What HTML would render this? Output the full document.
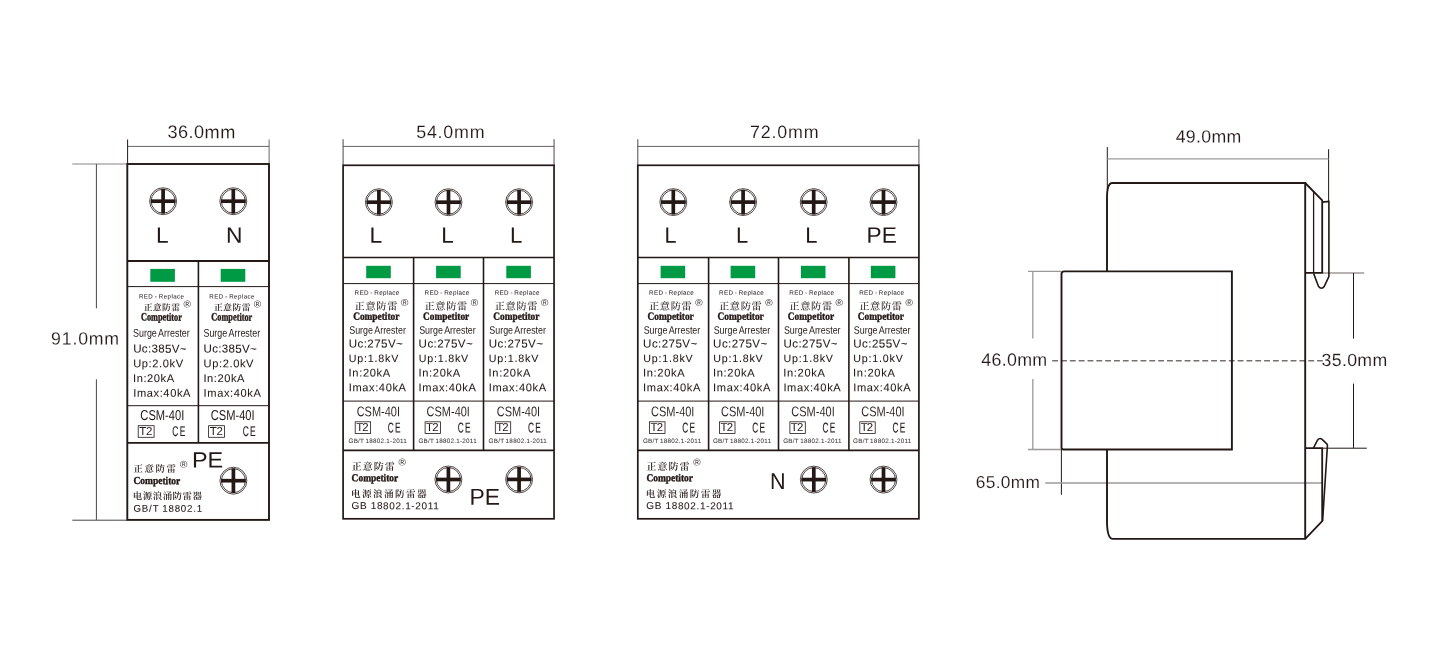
<!DOCTYPE html>
<html lang="zh">
<head>
<meta charset="utf-8">
<title>CSM-40I Surge Arrester Dimensions</title>
<style>
html,body{margin:0;padding:0;background:#fff;}
body{width:1450px;height:660px;overflow:hidden;font-family:"Liberation Sans","Noto Sans CJK SC",sans-serif;}
svg{display:block;will-change:transform;}
text{white-space:pre;}
</style>
</head>
<body>
<svg width="1450" height="660" viewBox="0 0 1450 660">
<rect x="0" y="0" width="1450" height="660" fill="#ffffff"/>
<line x1="127.6" y1="139.5" x2="127.6" y2="164" stroke="#231815" stroke-width="1" />
<line x1="269.1" y1="139.5" x2="269.1" y2="164" stroke="#6b6665" stroke-width="1" />
<line x1="127.3" y1="146.4" x2="269" y2="146.4" stroke="#3e3a39" stroke-width="0.8" />
<text transform="matrix(1 0.0008 0 1 167.46 138.1)" font-family='"Liberation Sans", sans-serif' font-size="18.14" fill="#231815" stroke="#fff" stroke-width="0.12" letter-spacing="0.47">36.0mm</text>
<line x1="72.3" y1="164" x2="127.3" y2="164" stroke="#8a8584" stroke-width="1.2" />
<line x1="72.3" y1="520.2" x2="127.3" y2="520.2" stroke="#4a4543" stroke-width="1" />
<line x1="96.4" y1="164" x2="96.4" y2="308.3" stroke="#4a4543" stroke-width="1" />
<line x1="96.4" y1="379.3" x2="96.4" y2="519.9" stroke="#4a4543" stroke-width="1" />
<text transform="matrix(1 0.0008 0 1 51.09 344.4)" font-family='"Liberation Sans", sans-serif' font-size="17.71" fill="#231815" stroke="#fff" stroke-width="0.12" letter-spacing="0.81">91.0mm</text>
<rect x="127.3" y="164" width="141.7" height="355.9" fill="none" stroke="#231815" stroke-width="1.9" />
<line x1="127.3" y1="261" x2="269" y2="261" stroke="#231815" stroke-width="1.9" />
<line x1="127.3" y1="286.6" x2="269" y2="286.6" stroke="#231815" stroke-width="1" />
<line x1="127.3" y1="405.7" x2="269" y2="405.7" stroke="#231815" stroke-width="1" />
<line x1="127.3" y1="442.9" x2="269" y2="442.9" stroke="#231815" stroke-width="1.9" />
<line x1="198.4" y1="261" x2="198.4" y2="442.9" stroke="#231815" stroke-width="1.6" />
<circle cx="163.1" cy="201.2" r="13.45" fill="none" stroke="#231815" stroke-width="0.8"/>
<circle cx="163.1" cy="201.2" r="11.95" fill="none" stroke="#231815" stroke-width="0.8"/>
<line x1="150.75" y1="201.2" x2="175.45" y2="201.2" stroke="#231815" stroke-width="3.7" />
<line x1="163.1" y1="188.85" x2="163.1" y2="213.55" stroke="#231815" stroke-width="3.7" />
<circle cx="233.3" cy="201.2" r="13.45" fill="none" stroke="#231815" stroke-width="0.8"/>
<circle cx="233.3" cy="201.2" r="11.95" fill="none" stroke="#231815" stroke-width="0.8"/>
<line x1="220.95" y1="201.2" x2="245.65" y2="201.2" stroke="#231815" stroke-width="3.7" />
<line x1="233.3" y1="188.85" x2="233.3" y2="213.55" stroke="#231815" stroke-width="3.7" />
<text transform="matrix(1.0156 0.0008 0 1 155.99 242.7)" font-family='"Liberation Sans", sans-serif' font-size="22.32" fill="#231815">L</text>
<text transform="matrix(1.0219 0.0008 0 1 226.08 242.7)" font-family='"Liberation Sans", sans-serif' font-size="22.32" fill="#231815">N</text>
<rect x="150.3" y="268.9" width="24.6" height="12.9" fill="#009944" />
<text transform="matrix(1 0.0008 0 1 138.91 298.4)" font-family='"Liberation Sans", sans-serif' font-size="6.16" fill="#332e2c" stroke="#332e2c" stroke-width="0.05" word-spacing="-0.6" letter-spacing="0.44">RED - Replace</text>
<text transform="matrix(1 0.0008 0 1 143.64 310.42)" font-family='"Liberation Serif", "Noto Serif CJK SC", serif' font-size="8.76" fill="#231815" font-weight="600" letter-spacing="0.49">正意防雷</text>
<text transform="matrix(0.9861 0.0008 0 1 183.4 307.6)" font-family='"Liberation Sans", sans-serif' font-size="10.14" fill="#231815" stroke="#fff" stroke-width="0.04">®</text>
<text transform="matrix(0.7328 0.0008 0 1 140.97 320.6)" font-family='"Liberation Serif", serif' font-size="11.3" fill="#231815" font-weight="700" stroke="#231815" stroke-width="0.4">Competitor</text>
<text transform="matrix(0.7914 0.0008 0 1 133.04 336.8)" font-family='"Liberation Sans", sans-serif' font-size="11.27" fill="#231815" word-spacing="-0.9">Surge Arrester</text>
<text transform="matrix(1 0.0008 0 1 133.19 352.6)" font-family='"Liberation Sans", sans-serif' font-size="11.57" fill="#231815" stroke="#231815" stroke-width="0.06" letter-spacing="0.3">Uc:385V~</text>
<text transform="matrix(1 0.0008 0 1 133.22 367.2)" font-family='"Liberation Sans", sans-serif' font-size="11.1" fill="#231815" stroke="#231815" stroke-width="0.06" letter-spacing="0.6">Up:2.0kV</text>
<text transform="matrix(1 0.0008 0 1 133 382)" font-family='"Liberation Sans", sans-serif' font-size="11.1" fill="#231815" stroke="#231815" stroke-width="0.06" letter-spacing="0.57">In:20kA</text>
<text transform="matrix(1 0.0008 0 1 133.2 396.8)" font-family='"Liberation Sans", sans-serif' font-size="11.1" fill="#231815" stroke="#231815" stroke-width="0.06" letter-spacing="0.61">Imax:40kA</text>
<text transform="matrix(0.7752 0.0008 0 1 140.34 419.9)" font-family='"Liberation Sans", sans-serif' font-size="14.37" fill="#231815">CSM-40I</text>
<rect x="138.2" y="425.7" width="15.9" height="11.6" fill="none" stroke="#231815" stroke-width="0.8" />
<text transform="matrix(1 0.0008 0 1 139.37 434.9)" font-family='"Liberation Sans", sans-serif' font-size="11.57" fill="#231815" letter-spacing="-0.34">T2</text>
<text transform="matrix(0.6020 0.0008 0 1 172.28 436)" font-family='"Liberation Sans", sans-serif' font-size="14" fill="#231815" stroke="#231815" stroke-width="0.12" letter-spacing="2.2">CE</text>
<rect x="220.7" y="268.9" width="24.6" height="12.9" fill="#009944" />
<text transform="matrix(1 0.0008 0 1 209.31 298.4)" font-family='"Liberation Sans", sans-serif' font-size="6.16" fill="#332e2c" stroke="#332e2c" stroke-width="0.05" word-spacing="-0.6" letter-spacing="0.44">RED - Replace</text>
<text transform="matrix(1 0.0008 0 1 214.04 310.42)" font-family='"Liberation Serif", "Noto Serif CJK SC", serif' font-size="8.76" fill="#231815" font-weight="600" letter-spacing="0.49">正意防雷</text>
<text transform="matrix(0.9861 0.0008 0 1 253.8 307.6)" font-family='"Liberation Sans", sans-serif' font-size="10.14" fill="#231815" stroke="#fff" stroke-width="0.04">®</text>
<text transform="matrix(0.7328 0.0008 0 1 211.37 320.6)" font-family='"Liberation Serif", serif' font-size="11.3" fill="#231815" font-weight="700" stroke="#231815" stroke-width="0.4">Competitor</text>
<text transform="matrix(0.7914 0.0008 0 1 203.44 336.8)" font-family='"Liberation Sans", sans-serif' font-size="11.27" fill="#231815" word-spacing="-0.9">Surge Arrester</text>
<text transform="matrix(1 0.0008 0 1 203.59 352.6)" font-family='"Liberation Sans", sans-serif' font-size="11.57" fill="#231815" stroke="#231815" stroke-width="0.06" letter-spacing="0.3">Uc:385V~</text>
<text transform="matrix(1 0.0008 0 1 203.62 367.2)" font-family='"Liberation Sans", sans-serif' font-size="11.1" fill="#231815" stroke="#231815" stroke-width="0.06" letter-spacing="0.6">Up:2.0kV</text>
<text transform="matrix(1 0.0008 0 1 203.4 382)" font-family='"Liberation Sans", sans-serif' font-size="11.1" fill="#231815" stroke="#231815" stroke-width="0.06" letter-spacing="0.57">In:20kA</text>
<text transform="matrix(1 0.0008 0 1 203.6 396.8)" font-family='"Liberation Sans", sans-serif' font-size="11.1" fill="#231815" stroke="#231815" stroke-width="0.06" letter-spacing="0.61">Imax:40kA</text>
<text transform="matrix(0.7752 0.0008 0 1 210.74 419.9)" font-family='"Liberation Sans", sans-serif' font-size="14.37" fill="#231815">CSM-40I</text>
<rect x="208.6" y="425.7" width="15.9" height="11.6" fill="none" stroke="#231815" stroke-width="0.8" />
<text transform="matrix(1 0.0008 0 1 209.77 434.9)" font-family='"Liberation Sans", sans-serif' font-size="11.57" fill="#231815" letter-spacing="-0.34">T2</text>
<text transform="matrix(0.6020 0.0008 0 1 242.68 436)" font-family='"Liberation Sans", sans-serif' font-size="14" fill="#231815" stroke="#231815" stroke-width="0.12" letter-spacing="2.2">CE</text>
<text transform="matrix(1 0.0008 0 1 133.62 471.95)" font-family='"Liberation Serif", "Noto Serif CJK SC", serif' font-size="9.48" fill="#231815" font-weight="600" letter-spacing="1.51">正意防雷</text>
<text transform="matrix(0.9861 0.0008 0 1 180.1 467.7)" font-family='"Liberation Sans", sans-serif' font-size="10.14" fill="#231815" stroke="#fff" stroke-width="0.04">®</text>
<text transform="matrix(0.8830 0.0008 0 1 133.52 484.1)" font-family='"Liberation Serif", serif' font-size="10.72" fill="#231815" font-weight="700" stroke="#231815" stroke-width="0.4">Competitor</text>
<text transform="matrix(1 0.0008 0 1 132.86 499.25)" font-family='"Liberation Serif", "Noto Serif CJK SC", serif' font-size="9.48" fill="#231815" font-weight="600" letter-spacing="0.46">电源浪涌防雷器</text>
<text transform="matrix(1 0.0008 0 1 133.41 511.8)" font-family='"Liberation Sans", sans-serif' font-size="9.73" fill="#231815" stroke="#231815" stroke-width="0.08" word-spacing="-0.6" letter-spacing="0.83">GB/T 18802.1</text>
<text transform="matrix(1.0561 0.0008 0 1 191.93 467.4)" font-family='"Liberation Sans", sans-serif' font-size="22.17" fill="#231815">PE</text>
<circle cx="233.4" cy="480.7" r="13.45" fill="none" stroke="#231815" stroke-width="0.8"/>
<circle cx="233.4" cy="480.7" r="11.95" fill="none" stroke="#231815" stroke-width="0.8"/>
<line x1="221.05" y1="480.7" x2="245.75" y2="480.7" stroke="#231815" stroke-width="3.7" />
<line x1="233.4" y1="468.35" x2="233.4" y2="493.05" stroke="#231815" stroke-width="3.7" />
<line x1="343.1" y1="139.2" x2="343.1" y2="165.3" stroke="#231815" stroke-width="0.8" />
<line x1="554.05" y1="139.2" x2="554.05" y2="165.3" stroke="#231815" stroke-width="0.8" />
<line x1="343.1" y1="146.4" x2="554.05" y2="146.4" stroke="#3e3a39" stroke-width="0.8" />
<text transform="matrix(1 0.0008 0 1 416.19 137.9)" font-family='"Liberation Sans", sans-serif' font-size="17.86" fill="#231815" stroke="#fff" stroke-width="0.12" letter-spacing="0.77">54.0mm</text>
<rect x="343.1" y="165.3" width="210.95" height="353.5" fill="none" stroke="#231815" stroke-width="1.7" />
<line x1="343.1" y1="257.5" x2="554.05" y2="257.5" stroke="#231815" stroke-width="1.7" />
<line x1="343.1" y1="283.6" x2="554.05" y2="283.6" stroke="#231815" stroke-width="1" />
<line x1="343.1" y1="401.1" x2="554.05" y2="401.1" stroke="#231815" stroke-width="1" />
<line x1="343.1" y1="450.4" x2="554.05" y2="450.4" stroke="#231815" stroke-width="1.7" />
<line x1="413.6" y1="257.5" x2="413.6" y2="450.4" stroke="#231815" stroke-width="1.6" />
<line x1="483.5" y1="257.5" x2="483.5" y2="450.4" stroke="#231815" stroke-width="1.6" />
<circle cx="378.9" cy="202.2" r="13.45" fill="none" stroke="#231815" stroke-width="0.8"/>
<circle cx="378.9" cy="202.2" r="11.95" fill="none" stroke="#231815" stroke-width="0.8"/>
<line x1="366.55" y1="202.2" x2="391.25" y2="202.2" stroke="#231815" stroke-width="3.7" />
<line x1="378.9" y1="189.85" x2="378.9" y2="214.55" stroke="#231815" stroke-width="3.7" />
<text transform="matrix(1.0255 0.0008 0 1 369.47 242.8)" font-family='"Liberation Sans", sans-serif' font-size="22.32" fill="#231815">L</text>
<circle cx="448.5" cy="202.2" r="13.45" fill="none" stroke="#231815" stroke-width="0.8"/>
<circle cx="448.5" cy="202.2" r="11.95" fill="none" stroke="#231815" stroke-width="0.8"/>
<line x1="436.15" y1="202.2" x2="460.85" y2="202.2" stroke="#231815" stroke-width="3.7" />
<line x1="448.5" y1="189.85" x2="448.5" y2="214.55" stroke="#231815" stroke-width="3.7" />
<text transform="matrix(1.0056 0.0008 0 1 441.2 242.8)" font-family='"Liberation Sans", sans-serif' font-size="22.32" fill="#231815">L</text>
<circle cx="519.1" cy="202.2" r="13.45" fill="none" stroke="#231815" stroke-width="0.8"/>
<circle cx="519.1" cy="202.2" r="11.95" fill="none" stroke="#231815" stroke-width="0.8"/>
<line x1="506.75" y1="202.2" x2="531.45" y2="202.2" stroke="#231815" stroke-width="3.7" />
<line x1="519.1" y1="189.85" x2="519.1" y2="214.55" stroke="#231815" stroke-width="3.7" />
<text transform="matrix(0.9957 0.0008 0 1 510.12 242.8)" font-family='"Liberation Sans", sans-serif' font-size="22.32" fill="#231815">L</text>
<rect x="366.2" y="265.8" width="24.6" height="12.4" fill="#009944" />
<text transform="matrix(1 0.0008 0 1 354.6 294.8)" font-family='"Liberation Sans", sans-serif' font-size="6.3" fill="#332e2c" stroke="#332e2c" stroke-width="0.05" word-spacing="-0.6" letter-spacing="0.33">RED - Replace</text>
<text transform="matrix(1 0.0008 0 1 354.59 309.78)" font-family='"Liberation Serif", "Noto Serif CJK SC", serif' font-size="10.21" fill="#231815" font-weight="500" letter-spacing="0.66">正意防雷</text>
<text transform="matrix(0.9861 0.0008 0 1 400.9 306.1)" font-family='"Liberation Sans", sans-serif' font-size="10.14" fill="#231815" stroke="#fff" stroke-width="0.04">®</text>
<text transform="matrix(0.8618 0.0008 0 1 353.13 319.7)" font-family='"Liberation Serif", serif' font-size="10.87" fill="#231815" font-weight="700" stroke="#231815" stroke-width="0.4">Competitor</text>
<text transform="matrix(0.8200 0.0008 0 1 349.24 333.8)" font-family='"Liberation Sans", sans-serif' font-size="10.85" fill="#231815" word-spacing="-0.8">Surge Arrester</text>
<text transform="matrix(1 0.0008 0 1 348.69 347.5)" font-family='"Liberation Sans", sans-serif' font-size="11.57" fill="#231815" stroke="#231815" stroke-width="0.06" letter-spacing="0.44">Uc:275V~</text>
<text transform="matrix(1 0.0008 0 1 348.75 361.9)" font-family='"Liberation Sans", sans-serif' font-size="10.68" fill="#231815" stroke="#231815" stroke-width="0.06" letter-spacing="0.8">Up:1.8kV</text>
<text transform="matrix(1 0.0008 0 1 348.5 376.6)" font-family='"Liberation Sans", sans-serif' font-size="11.1" fill="#231815" stroke="#231815" stroke-width="0.06" letter-spacing="0.69">In:20kA</text>
<text transform="matrix(1 0.0008 0 1 348.7 391.2)" font-family='"Liberation Sans", sans-serif' font-size="11.1" fill="#231815" stroke="#231815" stroke-width="0.06" letter-spacing="0.61">Imax:40kA</text>
<text transform="matrix(0.7892 0.0008 0 1 356.65 416.2)" font-family='"Liberation Sans", sans-serif' font-size="13.94" fill="#231815" stroke="#fff" stroke-width="0.06">CSM-40I</text>
<rect x="355.2" y="421.8" width="15.4" height="11.6" fill="none" stroke="#231815" stroke-width="0.8" />
<text transform="matrix(1 0.0008 0 1 356.17 430.9)" font-family='"Liberation Sans", sans-serif' font-size="11.43" fill="#231815" letter-spacing="-0.88">T2</text>
<text transform="matrix(0.5817 0.0008 0 1 387.78 432.4)" font-family='"Liberation Sans", sans-serif' font-size="14.29" fill="#231815" stroke="#231815" stroke-width="0.12" letter-spacing="2.2">CE</text>
<text transform="matrix(1 0.0008 0 1 348.48 443)" font-family='"Liberation Sans", sans-serif' font-size="6.3" fill="#3e3a38" stroke="#3e3a38" stroke-width="0.05" word-spacing="-0.6" letter-spacing="0.26">GB/T 18802.1-2011</text>
<rect x="436.1" y="265.8" width="24.6" height="12.4" fill="#009944" />
<text transform="matrix(1 0.0008 0 1 424.5 294.8)" font-family='"Liberation Sans", sans-serif' font-size="6.3" fill="#332e2c" stroke="#332e2c" stroke-width="0.05" word-spacing="-0.6" letter-spacing="0.33">RED - Replace</text>
<text transform="matrix(1 0.0008 0 1 424.49 309.78)" font-family='"Liberation Serif", "Noto Serif CJK SC", serif' font-size="10.21" fill="#231815" font-weight="500" letter-spacing="0.66">正意防雷</text>
<text transform="matrix(0.9861 0.0008 0 1 470.8 306.1)" font-family='"Liberation Sans", sans-serif' font-size="10.14" fill="#231815" stroke="#fff" stroke-width="0.04">®</text>
<text transform="matrix(0.8618 0.0008 0 1 423.03 319.7)" font-family='"Liberation Serif", serif' font-size="10.87" fill="#231815" font-weight="700" stroke="#231815" stroke-width="0.4">Competitor</text>
<text transform="matrix(0.8200 0.0008 0 1 419.14 333.8)" font-family='"Liberation Sans", sans-serif' font-size="10.85" fill="#231815" word-spacing="-0.8">Surge Arrester</text>
<text transform="matrix(1 0.0008 0 1 418.59 347.5)" font-family='"Liberation Sans", sans-serif' font-size="11.57" fill="#231815" stroke="#231815" stroke-width="0.06" letter-spacing="0.44">Uc:275V~</text>
<text transform="matrix(1 0.0008 0 1 418.65 361.9)" font-family='"Liberation Sans", sans-serif' font-size="10.68" fill="#231815" stroke="#231815" stroke-width="0.06" letter-spacing="0.8">Up:1.8kV</text>
<text transform="matrix(1 0.0008 0 1 418.4 376.6)" font-family='"Liberation Sans", sans-serif' font-size="11.1" fill="#231815" stroke="#231815" stroke-width="0.06" letter-spacing="0.69">In:20kA</text>
<text transform="matrix(1 0.0008 0 1 418.6 391.2)" font-family='"Liberation Sans", sans-serif' font-size="11.1" fill="#231815" stroke="#231815" stroke-width="0.06" letter-spacing="0.61">Imax:40kA</text>
<text transform="matrix(0.7892 0.0008 0 1 426.55 416.2)" font-family='"Liberation Sans", sans-serif' font-size="13.94" fill="#231815" stroke="#fff" stroke-width="0.06">CSM-40I</text>
<rect x="425.1" y="421.8" width="15.4" height="11.6" fill="none" stroke="#231815" stroke-width="0.8" />
<text transform="matrix(1 0.0008 0 1 426.07 430.9)" font-family='"Liberation Sans", sans-serif' font-size="11.43" fill="#231815" letter-spacing="-0.88">T2</text>
<text transform="matrix(0.5817 0.0008 0 1 457.68 432.4)" font-family='"Liberation Sans", sans-serif' font-size="14.29" fill="#231815" stroke="#231815" stroke-width="0.12" letter-spacing="2.2">CE</text>
<text transform="matrix(1 0.0008 0 1 418.38 443)" font-family='"Liberation Sans", sans-serif' font-size="6.3" fill="#3e3a38" stroke="#3e3a38" stroke-width="0.05" word-spacing="-0.6" letter-spacing="0.26">GB/T 18802.1-2011</text>
<rect x="506.3" y="265.8" width="24.6" height="12.4" fill="#009944" />
<text transform="matrix(1 0.0008 0 1 494.7 294.8)" font-family='"Liberation Sans", sans-serif' font-size="6.3" fill="#332e2c" stroke="#332e2c" stroke-width="0.05" word-spacing="-0.6" letter-spacing="0.33">RED - Replace</text>
<text transform="matrix(1 0.0008 0 1 494.69 309.78)" font-family='"Liberation Serif", "Noto Serif CJK SC", serif' font-size="10.21" fill="#231815" font-weight="500" letter-spacing="0.66">正意防雷</text>
<text transform="matrix(0.9861 0.0008 0 1 541 306.1)" font-family='"Liberation Sans", sans-serif' font-size="10.14" fill="#231815" stroke="#fff" stroke-width="0.04">®</text>
<text transform="matrix(0.8618 0.0008 0 1 493.23 319.7)" font-family='"Liberation Serif", serif' font-size="10.87" fill="#231815" font-weight="700" stroke="#231815" stroke-width="0.4">Competitor</text>
<text transform="matrix(0.8200 0.0008 0 1 489.34 333.8)" font-family='"Liberation Sans", sans-serif' font-size="10.85" fill="#231815" word-spacing="-0.8">Surge Arrester</text>
<text transform="matrix(1 0.0008 0 1 488.79 347.5)" font-family='"Liberation Sans", sans-serif' font-size="11.57" fill="#231815" stroke="#231815" stroke-width="0.06" letter-spacing="0.44">Uc:275V~</text>
<text transform="matrix(1 0.0008 0 1 488.85 361.9)" font-family='"Liberation Sans", sans-serif' font-size="10.68" fill="#231815" stroke="#231815" stroke-width="0.06" letter-spacing="0.8">Up:1.8kV</text>
<text transform="matrix(1 0.0008 0 1 488.6 376.6)" font-family='"Liberation Sans", sans-serif' font-size="11.1" fill="#231815" stroke="#231815" stroke-width="0.06" letter-spacing="0.69">In:20kA</text>
<text transform="matrix(1 0.0008 0 1 488.8 391.2)" font-family='"Liberation Sans", sans-serif' font-size="11.1" fill="#231815" stroke="#231815" stroke-width="0.06" letter-spacing="0.61">Imax:40kA</text>
<text transform="matrix(0.7892 0.0008 0 1 496.75 416.2)" font-family='"Liberation Sans", sans-serif' font-size="13.94" fill="#231815" stroke="#fff" stroke-width="0.06">CSM-40I</text>
<rect x="495.3" y="421.8" width="15.4" height="11.6" fill="none" stroke="#231815" stroke-width="0.8" />
<text transform="matrix(1 0.0008 0 1 496.27 430.9)" font-family='"Liberation Sans", sans-serif' font-size="11.43" fill="#231815" letter-spacing="-0.88">T2</text>
<text transform="matrix(0.5817 0.0008 0 1 527.88 432.4)" font-family='"Liberation Sans", sans-serif' font-size="14.29" fill="#231815" stroke="#231815" stroke-width="0.12" letter-spacing="2.2">CE</text>
<text transform="matrix(1 0.0008 0 1 488.58 443)" font-family='"Liberation Sans", sans-serif' font-size="6.3" fill="#3e3a38" stroke="#3e3a38" stroke-width="0.05" word-spacing="-0.6" letter-spacing="0.26">GB/T 18802.1-2011</text>
<text transform="matrix(1 0.0008 0 1 351.7 469.9)" font-family='"Liberation Serif", "Noto Serif CJK SC", serif' font-size="10" fill="#231815" font-weight="600" letter-spacing="1">正意防雷</text>
<text transform="matrix(0.9861 0.0008 0 1 398.4 465.4)" font-family='"Liberation Sans", sans-serif' font-size="10.14" fill="#231815" stroke="#fff" stroke-width="0.04">®</text>
<text transform="matrix(0.8913 0.0008 0 1 351.62 481.2)" font-family='"Liberation Serif", serif' font-size="10.58" fill="#231815" font-weight="700" stroke="#231815" stroke-width="0.4">Competitor</text>
<text transform="matrix(1 0.0008 0 1 350.95 497.14)" font-family='"Liberation Serif", "Noto Serif CJK SC", serif' font-size="9.58" fill="#231815" font-weight="600" letter-spacing="1.41">电源浪涌防雷器</text>
<text transform="matrix(1 0.0008 0 1 351.5 509.1)" font-family='"Liberation Sans", sans-serif' font-size="10" fill="#231815" stroke="#231815" stroke-width="0.08" letter-spacing="0.65">GB 18802.1-2011</text>
<circle cx="448.4" cy="479.5" r="13.45" fill="none" stroke="#231815" stroke-width="0.8"/>
<circle cx="448.4" cy="479.5" r="11.95" fill="none" stroke="#231815" stroke-width="0.8"/>
<line x1="436.05" y1="479.5" x2="460.75" y2="479.5" stroke="#231815" stroke-width="3.7" />
<line x1="448.4" y1="467.15" x2="448.4" y2="491.85" stroke="#231815" stroke-width="3.7" />
<circle cx="519.1" cy="479.4" r="13.45" fill="none" stroke="#231815" stroke-width="0.8"/>
<circle cx="519.1" cy="479.4" r="11.95" fill="none" stroke="#231815" stroke-width="0.8"/>
<line x1="506.75" y1="479.4" x2="531.45" y2="479.4" stroke="#231815" stroke-width="3.7" />
<line x1="519.1" y1="467.05" x2="519.1" y2="491.75" stroke="#231815" stroke-width="3.7" />
<text transform="matrix(0.9949 0.0008 0 1 469.57 504.8)" font-family='"Liberation Sans", sans-serif' font-size="23.04" fill="#231815">PE</text>
<line x1="637.8" y1="139.2" x2="637.8" y2="165.3" stroke="#231815" stroke-width="0.8" />
<line x1="918.9" y1="139.2" x2="918.9" y2="165.3" stroke="#231815" stroke-width="0.8" />
<line x1="637.8" y1="146.4" x2="918.9" y2="146.4" stroke="#3e3a39" stroke-width="0.8" />
<text transform="matrix(1 0.0008 0 1 750.01 137.9)" font-family='"Liberation Sans", sans-serif' font-size="17.86" fill="#231815" stroke="#fff" stroke-width="0.12" letter-spacing="0.8">72.0mm</text>
<rect x="637.8" y="165.3" width="281.1" height="353.5" fill="none" stroke="#231815" stroke-width="1.7" />
<line x1="637.8" y1="257.5" x2="918.9" y2="257.5" stroke="#231815" stroke-width="1.7" />
<line x1="637.8" y1="283.6" x2="918.9" y2="283.6" stroke="#231815" stroke-width="1" />
<line x1="637.8" y1="401.1" x2="918.9" y2="401.1" stroke="#231815" stroke-width="1" />
<line x1="637.8" y1="450.4" x2="918.9" y2="450.4" stroke="#231815" stroke-width="1.7" />
<line x1="708.6" y1="257.5" x2="708.6" y2="450.4" stroke="#231815" stroke-width="1.6" />
<line x1="778.5" y1="257.5" x2="778.5" y2="450.4" stroke="#231815" stroke-width="1.6" />
<line x1="848.9" y1="257.5" x2="848.9" y2="450.4" stroke="#231815" stroke-width="1.6" />
<circle cx="673.3" cy="202.1" r="13.45" fill="none" stroke="#231815" stroke-width="0.8"/>
<circle cx="673.3" cy="202.1" r="11.95" fill="none" stroke="#231815" stroke-width="0.8"/>
<line x1="660.95" y1="202.1" x2="685.65" y2="202.1" stroke="#231815" stroke-width="3.7" />
<line x1="673.3" y1="189.75" x2="673.3" y2="214.45" stroke="#231815" stroke-width="3.7" />
<text transform="matrix(0.9658 0.0008 0 1 664.58 242.8)" font-family='"Liberation Sans", sans-serif' font-size="22.32" fill="#231815">L</text>
<circle cx="743.1" cy="202.1" r="13.45" fill="none" stroke="#231815" stroke-width="0.8"/>
<circle cx="743.1" cy="202.1" r="11.95" fill="none" stroke="#231815" stroke-width="0.8"/>
<line x1="730.75" y1="202.1" x2="755.45" y2="202.1" stroke="#231815" stroke-width="3.7" />
<line x1="743.1" y1="189.75" x2="743.1" y2="214.45" stroke="#231815" stroke-width="3.7" />
<text transform="matrix(0.9857 0.0008 0 1 736.04 242.8)" font-family='"Liberation Sans", sans-serif' font-size="22.32" fill="#231815">L</text>
<circle cx="813.7" cy="202.1" r="13.45" fill="none" stroke="#231815" stroke-width="0.8"/>
<circle cx="813.7" cy="202.1" r="11.95" fill="none" stroke="#231815" stroke-width="0.8"/>
<line x1="801.35" y1="202.1" x2="826.05" y2="202.1" stroke="#231815" stroke-width="3.7" />
<line x1="813.7" y1="189.75" x2="813.7" y2="214.45" stroke="#231815" stroke-width="3.7" />
<text transform="matrix(0.9857 0.0008 0 1 805.14 242.8)" font-family='"Liberation Sans", sans-serif' font-size="22.32" fill="#231815">L</text>
<circle cx="883.5" cy="202.1" r="13.45" fill="none" stroke="#231815" stroke-width="0.8"/>
<circle cx="883.5" cy="202.1" r="11.95" fill="none" stroke="#231815" stroke-width="0.8"/>
<line x1="871.15" y1="202.1" x2="895.85" y2="202.1" stroke="#231815" stroke-width="3.7" />
<line x1="883.5" y1="189.75" x2="883.5" y2="214.45" stroke="#231815" stroke-width="3.7" />
<text transform="matrix(1.0161 0.0008 0 1 866.59 242.8)" font-family='"Liberation Sans", sans-serif' font-size="22.32" fill="#231815">PE</text>
<rect x="660.6" y="265.8" width="24.6" height="12.4" fill="#009944" />
<text transform="matrix(1 0.0008 0 1 649 294.8)" font-family='"Liberation Sans", sans-serif' font-size="6.3" fill="#332e2c" stroke="#332e2c" stroke-width="0.05" word-spacing="-0.6" letter-spacing="0.33">RED - Replace</text>
<text transform="matrix(1 0.0008 0 1 648.99 309.78)" font-family='"Liberation Serif", "Noto Serif CJK SC", serif' font-size="10.21" fill="#231815" font-weight="500" letter-spacing="0.66">正意防雷</text>
<text transform="matrix(0.9861 0.0008 0 1 695.3 306.1)" font-family='"Liberation Sans", sans-serif' font-size="10.14" fill="#231815" stroke="#fff" stroke-width="0.04">®</text>
<text transform="matrix(0.8618 0.0008 0 1 647.53 319.7)" font-family='"Liberation Serif", serif' font-size="10.87" fill="#231815" font-weight="700" stroke="#231815" stroke-width="0.4">Competitor</text>
<text transform="matrix(0.8200 0.0008 0 1 643.64 333.8)" font-family='"Liberation Sans", sans-serif' font-size="10.85" fill="#231815" word-spacing="-0.8">Surge Arrester</text>
<text transform="matrix(1 0.0008 0 1 643.09 347.5)" font-family='"Liberation Sans", sans-serif' font-size="11.57" fill="#231815" stroke="#231815" stroke-width="0.06" letter-spacing="0.44">Uc:275V~</text>
<text transform="matrix(1 0.0008 0 1 643.15 361.9)" font-family='"Liberation Sans", sans-serif' font-size="10.68" fill="#231815" stroke="#231815" stroke-width="0.06" letter-spacing="0.8">Up:1.8kV</text>
<text transform="matrix(1 0.0008 0 1 642.9 376.6)" font-family='"Liberation Sans", sans-serif' font-size="11.1" fill="#231815" stroke="#231815" stroke-width="0.06" letter-spacing="0.69">In:20kA</text>
<text transform="matrix(1 0.0008 0 1 643.1 391.2)" font-family='"Liberation Sans", sans-serif' font-size="11.1" fill="#231815" stroke="#231815" stroke-width="0.06" letter-spacing="0.61">Imax:40kA</text>
<text transform="matrix(0.7892 0.0008 0 1 651.05 416.2)" font-family='"Liberation Sans", sans-serif' font-size="13.94" fill="#231815" stroke="#fff" stroke-width="0.06">CSM-40I</text>
<rect x="649.6" y="421.8" width="15.4" height="11.6" fill="none" stroke="#231815" stroke-width="0.8" />
<text transform="matrix(1 0.0008 0 1 650.57 430.9)" font-family='"Liberation Sans", sans-serif' font-size="11.43" fill="#231815" letter-spacing="-0.88">T2</text>
<text transform="matrix(0.5817 0.0008 0 1 682.18 432.4)" font-family='"Liberation Sans", sans-serif' font-size="14.29" fill="#231815" stroke="#231815" stroke-width="0.12" letter-spacing="2.2">CE</text>
<text transform="matrix(1 0.0008 0 1 642.88 443)" font-family='"Liberation Sans", sans-serif' font-size="6.3" fill="#3e3a38" stroke="#3e3a38" stroke-width="0.05" word-spacing="-0.6" letter-spacing="0.26">GB/T 18802.1-2011</text>
<rect x="730.6" y="265.8" width="24.6" height="12.4" fill="#009944" />
<text transform="matrix(1 0.0008 0 1 719 294.8)" font-family='"Liberation Sans", sans-serif' font-size="6.3" fill="#332e2c" stroke="#332e2c" stroke-width="0.05" word-spacing="-0.6" letter-spacing="0.33">RED - Replace</text>
<text transform="matrix(1 0.0008 0 1 718.99 309.78)" font-family='"Liberation Serif", "Noto Serif CJK SC", serif' font-size="10.21" fill="#231815" font-weight="500" letter-spacing="0.66">正意防雷</text>
<text transform="matrix(0.9861 0.0008 0 1 765.3 306.1)" font-family='"Liberation Sans", sans-serif' font-size="10.14" fill="#231815" stroke="#fff" stroke-width="0.04">®</text>
<text transform="matrix(0.8618 0.0008 0 1 717.53 319.7)" font-family='"Liberation Serif", serif' font-size="10.87" fill="#231815" font-weight="700" stroke="#231815" stroke-width="0.4">Competitor</text>
<text transform="matrix(0.8200 0.0008 0 1 713.64 333.8)" font-family='"Liberation Sans", sans-serif' font-size="10.85" fill="#231815" word-spacing="-0.8">Surge Arrester</text>
<text transform="matrix(1 0.0008 0 1 713.09 347.5)" font-family='"Liberation Sans", sans-serif' font-size="11.57" fill="#231815" stroke="#231815" stroke-width="0.06" letter-spacing="0.44">Uc:275V~</text>
<text transform="matrix(1 0.0008 0 1 713.15 361.9)" font-family='"Liberation Sans", sans-serif' font-size="10.68" fill="#231815" stroke="#231815" stroke-width="0.06" letter-spacing="0.8">Up:1.8kV</text>
<text transform="matrix(1 0.0008 0 1 712.9 376.6)" font-family='"Liberation Sans", sans-serif' font-size="11.1" fill="#231815" stroke="#231815" stroke-width="0.06" letter-spacing="0.69">In:20kA</text>
<text transform="matrix(1 0.0008 0 1 713.1 391.2)" font-family='"Liberation Sans", sans-serif' font-size="11.1" fill="#231815" stroke="#231815" stroke-width="0.06" letter-spacing="0.61">Imax:40kA</text>
<text transform="matrix(0.7892 0.0008 0 1 721.05 416.2)" font-family='"Liberation Sans", sans-serif' font-size="13.94" fill="#231815" stroke="#fff" stroke-width="0.06">CSM-40I</text>
<rect x="719.6" y="421.8" width="15.4" height="11.6" fill="none" stroke="#231815" stroke-width="0.8" />
<text transform="matrix(1 0.0008 0 1 720.57 430.9)" font-family='"Liberation Sans", sans-serif' font-size="11.43" fill="#231815" letter-spacing="-0.88">T2</text>
<text transform="matrix(0.5817 0.0008 0 1 752.18 432.4)" font-family='"Liberation Sans", sans-serif' font-size="14.29" fill="#231815" stroke="#231815" stroke-width="0.12" letter-spacing="2.2">CE</text>
<text transform="matrix(1 0.0008 0 1 712.88 443)" font-family='"Liberation Sans", sans-serif' font-size="6.3" fill="#3e3a38" stroke="#3e3a38" stroke-width="0.05" word-spacing="-0.6" letter-spacing="0.26">GB/T 18802.1-2011</text>
<rect x="800.9" y="265.8" width="24.6" height="12.4" fill="#009944" />
<text transform="matrix(1 0.0008 0 1 789.3 294.8)" font-family='"Liberation Sans", sans-serif' font-size="6.3" fill="#332e2c" stroke="#332e2c" stroke-width="0.05" word-spacing="-0.6" letter-spacing="0.33">RED - Replace</text>
<text transform="matrix(1 0.0008 0 1 789.29 309.78)" font-family='"Liberation Serif", "Noto Serif CJK SC", serif' font-size="10.21" fill="#231815" font-weight="500" letter-spacing="0.66">正意防雷</text>
<text transform="matrix(0.9861 0.0008 0 1 835.6 306.1)" font-family='"Liberation Sans", sans-serif' font-size="10.14" fill="#231815" stroke="#fff" stroke-width="0.04">®</text>
<text transform="matrix(0.8618 0.0008 0 1 787.83 319.7)" font-family='"Liberation Serif", serif' font-size="10.87" fill="#231815" font-weight="700" stroke="#231815" stroke-width="0.4">Competitor</text>
<text transform="matrix(0.8200 0.0008 0 1 783.94 333.8)" font-family='"Liberation Sans", sans-serif' font-size="10.85" fill="#231815" word-spacing="-0.8">Surge Arrester</text>
<text transform="matrix(1 0.0008 0 1 783.39 347.5)" font-family='"Liberation Sans", sans-serif' font-size="11.57" fill="#231815" stroke="#231815" stroke-width="0.06" letter-spacing="0.44">Uc:275V~</text>
<text transform="matrix(1 0.0008 0 1 783.45 361.9)" font-family='"Liberation Sans", sans-serif' font-size="10.68" fill="#231815" stroke="#231815" stroke-width="0.06" letter-spacing="0.8">Up:1.8kV</text>
<text transform="matrix(1 0.0008 0 1 783.2 376.6)" font-family='"Liberation Sans", sans-serif' font-size="11.1" fill="#231815" stroke="#231815" stroke-width="0.06" letter-spacing="0.69">In:20kA</text>
<text transform="matrix(1 0.0008 0 1 783.4 391.2)" font-family='"Liberation Sans", sans-serif' font-size="11.1" fill="#231815" stroke="#231815" stroke-width="0.06" letter-spacing="0.61">Imax:40kA</text>
<text transform="matrix(0.7892 0.0008 0 1 791.35 416.2)" font-family='"Liberation Sans", sans-serif' font-size="13.94" fill="#231815" stroke="#fff" stroke-width="0.06">CSM-40I</text>
<rect x="789.9" y="421.8" width="15.4" height="11.6" fill="none" stroke="#231815" stroke-width="0.8" />
<text transform="matrix(1 0.0008 0 1 790.87 430.9)" font-family='"Liberation Sans", sans-serif' font-size="11.43" fill="#231815" letter-spacing="-0.88">T2</text>
<text transform="matrix(0.5817 0.0008 0 1 822.48 432.4)" font-family='"Liberation Sans", sans-serif' font-size="14.29" fill="#231815" stroke="#231815" stroke-width="0.12" letter-spacing="2.2">CE</text>
<text transform="matrix(1 0.0008 0 1 783.18 443)" font-family='"Liberation Sans", sans-serif' font-size="6.3" fill="#3e3a38" stroke="#3e3a38" stroke-width="0.05" word-spacing="-0.6" letter-spacing="0.26">GB/T 18802.1-2011</text>
<rect x="870.8" y="265.8" width="24.6" height="12.4" fill="#009944" />
<text transform="matrix(1 0.0008 0 1 859.2 294.8)" font-family='"Liberation Sans", sans-serif' font-size="6.3" fill="#332e2c" stroke="#332e2c" stroke-width="0.05" word-spacing="-0.6" letter-spacing="0.33">RED - Replace</text>
<text transform="matrix(1 0.0008 0 1 859.19 309.78)" font-family='"Liberation Serif", "Noto Serif CJK SC", serif' font-size="10.21" fill="#231815" font-weight="500" letter-spacing="0.66">正意防雷</text>
<text transform="matrix(0.9861 0.0008 0 1 905.5 306.1)" font-family='"Liberation Sans", sans-serif' font-size="10.14" fill="#231815" stroke="#fff" stroke-width="0.04">®</text>
<text transform="matrix(0.8618 0.0008 0 1 857.73 319.7)" font-family='"Liberation Serif", serif' font-size="10.87" fill="#231815" font-weight="700" stroke="#231815" stroke-width="0.4">Competitor</text>
<text transform="matrix(0.8200 0.0008 0 1 853.84 333.8)" font-family='"Liberation Sans", sans-serif' font-size="10.85" fill="#231815" word-spacing="-0.8">Surge Arrester</text>
<text transform="matrix(1 0.0008 0 1 853.29 347.5)" font-family='"Liberation Sans", sans-serif' font-size="11.57" fill="#231815" stroke="#231815" stroke-width="0.06" letter-spacing="0.44">Uc:255V~</text>
<text transform="matrix(1 0.0008 0 1 853.35 361.9)" font-family='"Liberation Sans", sans-serif' font-size="10.68" fill="#231815" stroke="#231815" stroke-width="0.06" letter-spacing="0.8">Up:1.0kV</text>
<text transform="matrix(1 0.0008 0 1 853.1 376.6)" font-family='"Liberation Sans", sans-serif' font-size="11.1" fill="#231815" stroke="#231815" stroke-width="0.06" letter-spacing="0.69">In:20kA</text>
<text transform="matrix(1 0.0008 0 1 853.3 391.2)" font-family='"Liberation Sans", sans-serif' font-size="11.1" fill="#231815" stroke="#231815" stroke-width="0.06" letter-spacing="0.61">Imax:40kA</text>
<text transform="matrix(0.7892 0.0008 0 1 861.25 416.2)" font-family='"Liberation Sans", sans-serif' font-size="13.94" fill="#231815" stroke="#fff" stroke-width="0.06">CSM-40I</text>
<rect x="859.8" y="421.8" width="15.4" height="11.6" fill="none" stroke="#231815" stroke-width="0.8" />
<text transform="matrix(1 0.0008 0 1 860.77 430.9)" font-family='"Liberation Sans", sans-serif' font-size="11.43" fill="#231815" letter-spacing="-0.88">T2</text>
<text transform="matrix(0.5817 0.0008 0 1 892.38 432.4)" font-family='"Liberation Sans", sans-serif' font-size="14.29" fill="#231815" stroke="#231815" stroke-width="0.12" letter-spacing="2.2">CE</text>
<text transform="matrix(1 0.0008 0 1 853.08 443)" font-family='"Liberation Sans", sans-serif' font-size="6.3" fill="#3e3a38" stroke="#3e3a38" stroke-width="0.05" word-spacing="-0.6" letter-spacing="0.26">GB/T 18802.1-2011</text>
<text transform="matrix(1 0.0008 0 1 646.5 469.9)" font-family='"Liberation Serif", "Noto Serif CJK SC", serif' font-size="10" fill="#231815" font-weight="600" letter-spacing="1">正意防雷</text>
<text transform="matrix(0.9861 0.0008 0 1 693.2 465.4)" font-family='"Liberation Sans", sans-serif' font-size="10.14" fill="#231815" stroke="#fff" stroke-width="0.04">®</text>
<text transform="matrix(0.8913 0.0008 0 1 646.42 481.2)" font-family='"Liberation Serif", serif' font-size="10.58" fill="#231815" font-weight="700" stroke="#231815" stroke-width="0.4">Competitor</text>
<text transform="matrix(1 0.0008 0 1 645.75 497.14)" font-family='"Liberation Serif", "Noto Serif CJK SC", serif' font-size="9.58" fill="#231815" font-weight="600" letter-spacing="1.41">电源浪涌防雷器</text>
<text transform="matrix(1 0.0008 0 1 646.3 509.1)" font-family='"Liberation Sans", sans-serif' font-size="10" fill="#231815" stroke="#231815" stroke-width="0.08" letter-spacing="0.65">GB 18802.1-2011</text>
<text transform="matrix(0.9424 0.0008 0 1 770.07 488.9)" font-family='"Liberation Sans", sans-serif' font-size="22.9" fill="#231815">N</text>
<circle cx="813.8" cy="479.6" r="13.45" fill="none" stroke="#231815" stroke-width="0.8"/>
<circle cx="813.8" cy="479.6" r="11.95" fill="none" stroke="#231815" stroke-width="0.8"/>
<line x1="801.45" y1="479.6" x2="826.15" y2="479.6" stroke="#231815" stroke-width="3.7" />
<line x1="813.8" y1="467.25" x2="813.8" y2="491.95" stroke="#231815" stroke-width="3.7" />
<circle cx="883.5" cy="479.6" r="13.45" fill="none" stroke="#231815" stroke-width="0.8"/>
<circle cx="883.5" cy="479.6" r="11.95" fill="none" stroke="#231815" stroke-width="0.8"/>
<line x1="871.15" y1="479.6" x2="895.85" y2="479.6" stroke="#231815" stroke-width="3.7" />
<line x1="883.5" y1="467.25" x2="883.5" y2="491.95" stroke="#231815" stroke-width="3.7" />
<line x1="1107.3" y1="147" x2="1107.3" y2="190" stroke="#231815" stroke-width="1" />
<line x1="1328.6" y1="149.2" x2="1328.6" y2="201" stroke="#231815" stroke-width="1" />
<line x1="1107.3" y1="158.8" x2="1328.6" y2="158.8" stroke="#9c9897" stroke-width="1.3" />
<text transform="matrix(1 0.0008 0 1 1175.65 142.4)" font-family='"Liberation Sans", sans-serif' font-size="17.71" fill="#231815" stroke="#fff" stroke-width="0.12" letter-spacing="0.34">49.0mm</text>
<line x1="1028" y1="271.4" x2="1061.4" y2="271.4" stroke="#9c9897" stroke-width="1.3" />
<line x1="1028" y1="449.5" x2="1061.4" y2="449.5" stroke="#9c9897" stroke-width="1.3" />
<line x1="1032.8" y1="271.4" x2="1032.8" y2="338.6" stroke="#9c9897" stroke-width="1.3" />
<line x1="1032.8" y1="379.1" x2="1032.8" y2="449.5" stroke="#9c9897" stroke-width="1.3" />
<text transform="matrix(1 0.0008 0 1 981.34 365.7)" font-family='"Liberation Sans", sans-serif' font-size="17.86" fill="#231815" stroke="#fff" stroke-width="0.12" letter-spacing="0.26">46.0mm</text>
<line x1="1052.2" y1="360.75" x2="1322.8" y2="360.75" stroke="#76706e" stroke-width="1.4" stroke-dasharray="5.85 2.98"/>
<line x1="1322.6" y1="273" x2="1364.2" y2="273" stroke="#9c9897" stroke-width="1.3" />
<line x1="1322.6" y1="448.2" x2="1366.8" y2="448.2" stroke="#231815" stroke-width="1" />
<line x1="1353.5" y1="273" x2="1353.5" y2="338.6" stroke="#231815" stroke-width="1" />
<line x1="1353.5" y1="383.6" x2="1353.5" y2="448.2" stroke="#231815" stroke-width="1" />
<text transform="matrix(1 0.0008 0 1 1321.57 366)" font-family='"Liberation Sans", sans-serif' font-size="17.71" fill="#231815" stroke="#fff" stroke-width="0.12" letter-spacing="0.33">35.0mm</text>
<line x1="1061.4" y1="449.5" x2="1061.4" y2="494.8" stroke="#231815" stroke-width="1" />
<line x1="1045.2" y1="483" x2="1322.2" y2="483" stroke="#9c9897" stroke-width="1.3" />
<text transform="matrix(1 0.0008 0 1 975.74 488)" font-family='"Liberation Sans", sans-serif' font-size="17.29" fill="#231815" stroke="#fff" stroke-width="0.12" letter-spacing="0.36">65.0mm</text>
<path d="M1107 271.4 L1107 198 C1107 188 1108.6 183 1112.2 183 L1305.2 183 L1305.2 538.9 L1113 538.9 C1108.6 538.9 1107 533 1107 521 L1107 449.5" fill="none" stroke="#231815" stroke-width="1.9" />
<path d="M1064 271.4 L1231.9 271.4 L1231.9 449.5 L1063.6 449.5 Q1061.5 449.5 1061.5 447.4 L1061.5 274 Q1061.5 271.4 1064 271.4 Z" fill="none" stroke="#231815" stroke-width="1.9" />
<path d="M1305.2 183 L1322.2 200.4 L1322.2 272.9 L1305.2 272.9" fill="none" stroke="#231815" stroke-width="1.8" />
<line x1="1313.6" y1="191.5" x2="1313.6" y2="272.9" stroke="#231815" stroke-width="1.3" />
<path d="M1322.2 202.1 L1328.9 201.4 L1328.9 276.5 L1324.4 286.2 Q1321.5 290.4 1318.4 286.2 L1313.6 273.4" fill="none" stroke="#231815" stroke-width="1.6" />
<path d="M1305.2 448.2 L1322.2 448.2 L1322.2 521.2 L1305.2 538.9" fill="none" stroke="#231815" stroke-width="1.8" />
<path d="M1313.4 448.2 L1317.5 440.2 Q1320.0 436.6 1323.2 440.4 L1326.8 443.8 Q1327.6 444.5 1327.4 446 L1322.6 521.0" fill="none" stroke="#231815" stroke-width="1.6" />
</svg>
</body>
</html>
